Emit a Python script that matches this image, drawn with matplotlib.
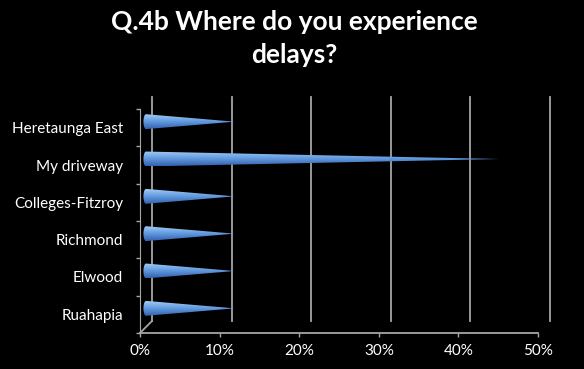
import numpy as np
import matplotlib
matplotlib.use("Agg")
import matplotlib.pyplot as plt
from matplotlib.patches import Polygon
from matplotlib.transforms import offset_copy

# data (percent of respondents)
categories = ["Heretaunga East", "My driveway", "Colleges-Fitzroy",
              "Richmond", "Elwood", "Ruahapia"]
values = [11.1, 44.4, 11.1, 11.1, 11.1, 11.1]
x_ticks = [0, 10, 20, 30, 40, 50]
x_labels = ["0%", "10%", "20%", "30%", "40%", "50%"]

plt.rcParams['font.family'] = ['Lato', 'DejaVu Sans']

fig = plt.figure(figsize=(5.84, 3.69), dpi=100, facecolor='black')
ax = fig.add_axes([140 / 584, 36 / 369, 398 / 584, 224 / 369])
ax.set_facecolor('none')

n = len(categories)
grid_col = '#a6a6a6'
depth = 12  # px, back wall offset
back = offset_copy(ax.transData, fig=fig, x=depth, y=depth, units='dots')
mid = offset_copy(ax.transData, fig=fig, x=depth / 2, y=depth / 2, units='dots')

# back wall grid lines
for t in x_ticks:
    ax.plot([t, t], [0, n], color=grid_col, lw=1.3, transform=back,
            zorder=1, clip_on=False)
# floor: front edge and diagonals to the back wall
ax.plot([x_ticks[0], x_ticks[-1]], [0, 0], color=grid_col, lw=1.3,
        zorder=1, clip_on=False)
for t in x_ticks:
    p0 = ax.transData.transform((t, 0))
    p1 = back.transform((t, 0))
    ax.plot([p0[0], p1[0]], [p0[1], p1[1]], color=grid_col, lw=1.3,
            transform=None, zorder=1, clip_on=False)
# left wall front edge and top diagonal
ax.plot([0, 0], [0, n], color=grid_col, lw=0.8, zorder=1, clip_on=False)
p0 = ax.transData.transform((0, n))
p1 = back.transform((0, n))
ax.plot([p0[0], p1[0]], [p0[1], p1[1]], color=grid_col, lw=1.3,
        transform=None, zorder=1, clip_on=False)

# cones
half = 0.2
ell_w = 0.32
g = np.linspace(0, 1, 40)
top_c = np.array([0.62, 0.80, 0.97])
mid_c = np.array([0.38, 0.60, 0.87])
bot_c = np.array([0.20, 0.38, 0.68])
img = np.where(g[:, None] < 0.5,
               top_c * (1 - 2 * g[:, None]) + mid_c * (2 * g[:, None]),
               mid_c * (2 - 2 * g[:, None]) + bot_c * (2 * g[:, None] - 1))
img = img[:, None, :]
for i, v in enumerate(values):
    c = n - i - 0.5
    th = np.linspace(np.pi / 2, 3 * np.pi / 2, 30)
    pts = [(ell_w * np.cos(a), c + half * np.sin(a)) for a in th]
    pts.append((v, c))
    poly = Polygon(pts, closed=True, facecolor='none', edgecolor='none',
                   transform=mid)
    ax.add_patch(poly)
    im = ax.imshow(img, extent=[-ell_w, v, c - half, c + half], aspect='auto',
                   transform=mid, zorder=3, interpolation='bilinear')
    im.set_clip_path(poly)

ax.set_xlim(0, 50)
ax.set_ylim(0, n)
for s in ax.spines.values():
    s.set_visible(False)

ax.set_xticks(x_ticks)
ax.set_xticklabels(x_labels)
ax.set_yticks(range(n + 1))
ax.set_yticklabels([])
ax.set_yticks([n - i - 0.5 for i in range(n)], minor=True)
ax.set_yticklabels(categories, minor=True)
ax.tick_params(axis='x', colors=grid_col, length=3, width=1, pad=5,
               labelcolor='white', labelsize=11)
ax.tick_params(axis='y', which='major', colors=grid_col, length=3, width=1)
ax.tick_params(axis='y', which='minor', length=0, pad=12,
               labelcolor='white', labelsize=11)

fig.text(0.504, 0.897, "Q.4b Where do you experience\ndelays?", ha='center',
         va='center', color='white', fontsize=19, fontweight='bold',
         linespacing=1.45)

fig.savefig("out.png", dpi=100, facecolor='black')
